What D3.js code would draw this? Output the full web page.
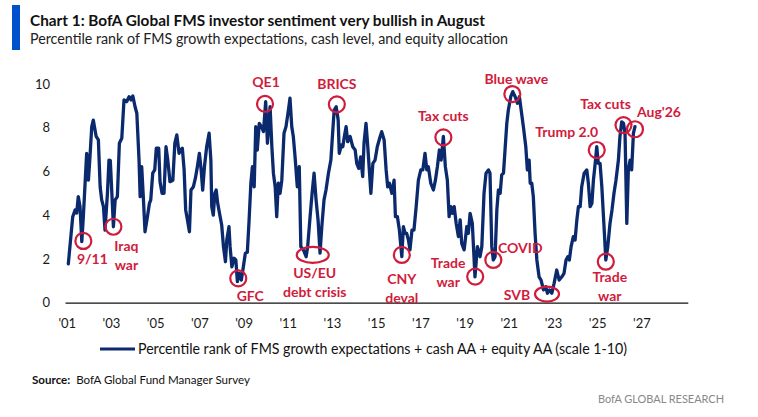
<!DOCTYPE html>
<html>
<head>
<meta charset="utf-8">
<script src="https://cdn.jsdelivr.net/npm/d3@7"></script>
<style>
  html, body { margin: 0; padding: 0; background: #fff; }
  svg { display: block; font-family: Lato, "Open Sans", sans-serif; }
  .axis text { font-size: 13px; fill: #1a1a1a; font-family: Lato, sans-serif; }
  .ann { font-size: 14px; font-weight: 700; fill: #d01c3c; }
</style>
</head>
<body>
<div id="chart"></div>
<script>
// BofA FMS composite sentiment (decimal year, scale 0-10)
const years = [
  2001.07, 2001.27, 2001.38, 2001.45, 2001.52, 2001.60, 2001.68, 2001.75, 2001.90, 2001.98,
  2002.05, 2002.13, 2002.20, 2002.33, 2002.43, 2002.51, 2002.58, 2002.66, 2002.73, 2002.84,
  2002.91, 2002.97, 2003.04, 2003.11, 2003.19, 2003.29, 2003.38, 2003.49, 2003.59, 2003.71,
  2003.82, 2003.91, 2003.99, 2004.09, 2004.17, 2004.27, 2004.32, 2004.39, 2004.47, 2004.54,
  2004.65, 2004.74, 2004.80, 2004.89, 2004.98, 2005.05, 2005.16, 2005.22, 2005.31, 2005.40,
  2005.49, 2005.57, 2005.67, 2005.80, 2005.89, 2005.98, 2006.08, 2006.16, 2006.23, 2006.31,
  2006.38, 2006.46, 2006.55, 2006.62, 2006.73, 2006.82, 2006.91, 2007.00, 2007.08, 2007.15,
  2007.23, 2007.33, 2007.44, 2007.52, 2007.56, 2007.63, 2007.70, 2007.76, 2007.83, 2007.94,
  2008.01, 2008.09, 2008.18, 2008.24, 2008.34, 2008.39, 2008.47, 2008.57, 2008.65, 2008.72,
  2008.81, 2008.90, 2008.99, 2009.08, 2009.17, 2009.25, 2009.33, 2009.40, 2009.48, 2009.55,
  2009.62, 2009.71, 2009.81, 2009.90, 2010.00, 2010.08, 2010.20, 2010.28, 2010.35, 2010.43,
  2010.50, 2010.57, 2010.65, 2010.73, 2010.83, 2010.92, 2011.03, 2011.10, 2011.18, 2011.25,
  2011.33, 2011.43, 2011.52, 2011.59, 2011.71, 2011.83, 2011.90, 2012.01, 2012.10, 2012.19,
  2012.28, 2012.37, 2012.46, 2012.54, 2012.64, 2012.73, 2012.84, 2012.95, 2013.02, 2013.10,
  2013.19, 2013.28, 2013.33, 2013.43, 2013.49, 2013.56, 2013.64, 2013.71, 2013.82, 2013.94,
  2014.05, 2014.12, 2014.21, 2014.30, 2014.39, 2014.45, 2014.54, 2014.62, 2014.69, 2014.76,
  2014.85, 2014.95, 2015.05, 2015.18, 2015.25, 2015.36, 2015.45, 2015.52, 2015.60, 2015.71,
  2015.81, 2015.87, 2015.96, 2016.05, 2016.16, 2016.23, 2016.31, 2016.38, 2016.46, 2016.53,
  2016.62, 2016.71, 2016.81, 2016.91, 2017.02, 2017.11, 2017.21, 2017.29, 2017.36, 2017.47,
  2017.59, 2017.68, 2017.77, 2017.86, 2017.94, 2018.04, 2018.13, 2018.22, 2018.30, 2018.38,
  2018.45, 2018.53, 2018.62, 2018.72, 2018.80, 2018.87, 2018.98, 2019.10, 2019.17, 2019.25,
  2019.35, 2019.47, 2019.58, 2019.70, 2019.78, 2019.88, 2019.97, 2020.08, 2020.15, 2020.23,
  2020.30, 2020.38, 2020.46, 2020.53, 2020.61, 2020.68, 2020.76, 2020.83, 2020.91, 2020.98,
  2021.09, 2021.18, 2021.29, 2021.39, 2021.48, 2021.56, 2021.66, 2021.77, 2021.84, 2021.92,
  2021.97, 2022.04, 2022.11, 2022.19, 2022.27, 2022.37, 2022.46, 2022.57, 2022.67, 2022.75,
  2022.84, 2022.95, 2023.05, 2023.17, 2023.28, 2023.40, 2023.50, 2023.59, 2023.67, 2023.74,
  2023.82, 2023.92, 2024.00, 2024.08, 2024.15, 2024.23, 2024.30, 2024.41, 2024.53, 2024.60,
  2024.68, 2024.76, 2024.83, 2024.91, 2024.98, 2025.05, 2025.13, 2025.21, 2025.31, 2025.39,
  2025.48, 2025.58, 2025.67, 2025.76, 2025.85, 2025.96, 2026.03, 2026.11, 2026.19, 2026.26,
  2026.34, 2026.41, 2026.49, 2026.56, 2026.64, 2026.71
];
const sentiment = [
  1.77, 3.93, 4.24, 4.10, 4.85, 4.39, 2.79, 3.93, 6.83, 5.60,
  6.67, 8.05, 8.35, 7.60, 7.44, 5.30, 4.70, 4.39, 3.32, 5.00,
  6.52, 6.50, 5.00, 3.47, 4.70, 4.85, 7.29, 7.52, 9.27, 9.19,
  9.42, 9.27, 9.45, 8.96, 8.66, 6.52, 4.85, 6.22, 4.70, 3.24,
  3.93, 4.54, 4.70, 5.92, 6.07, 7.06, 7.06, 5.53, 5.00, 5.00,
  7.13, 6.52, 5.53, 5.60, 7.29, 7.67, 6.83, 7.00, 7.06, 6.07,
  4.24, 3.78, 3.24, 5.15, 5.30, 5.69, 6.22, 6.83, 6.07, 5.15,
  6.22, 7.13, 7.75, 6.52, 4.39, 4.00, 5.00, 5.15, 4.54, 3.93,
  3.55, 2.56, 1.87, 2.86, 3.47, 2.56, 1.64, 2.03, 1.95, 0.96,
  1.34, 1.03, 1.64, 2.26, 2.30, 3.78, 5.46, 6.22, 5.30, 8.05,
  6.98, 8.20, 8.05, 7.82, 9.19, 7.29, 8.96, 7.13, 5.92, 5.30,
  3.93, 5.46, 5.00, 5.60, 7.75, 8.05, 8.81, 9.35, 8.05, 7.60,
  6.67, 5.30, 6.22, 2.56, 2.41, 2.10, 2.56, 3.93, 5.00, 5.92,
  4.70, 3.78, 2.26, 3.47, 4.70, 5.15, 5.92, 6.52, 7.60, 8.81,
  8.96, 8.35, 6.83, 7.21, 7.13, 7.60, 8.05, 7.36, 7.60, 7.13,
  6.98, 6.37, 6.14, 6.67, 5.76, 7.29, 8.20, 7.13, 6.07, 5.00,
  6.37, 6.52, 7.13, 7.60, 7.82, 7.44, 6.07, 5.30, 5.46, 5.00,
  5.60, 3.93, 3.93, 3.32, 2.10, 3.47, 3.17, 3.17, 2.86, 2.41,
  3.32, 3.32, 4.39, 5.60, 6.07, 6.07, 6.83, 6.07, 6.22, 5.46,
  5.15, 5.60, 6.22, 6.98, 6.52, 7.60, 6.22, 5.60, 3.93, 4.39,
  4.08, 4.39, 3.62, 3.02, 3.78, 2.71, 2.41, 3.47, 3.17, 4.08,
  3.62, 1.18, 2.56, 2.10, 2.56, 5.00, 5.92, 6.07, 5.92, 2.56,
  1.95, 2.10, 4.24, 5.15, 5.00, 5.84, 5.92, 6.98, 8.20, 8.81,
  9.42, 9.65, 9.42, 9.12, 9.42, 8.81, 8.05, 7.13, 6.07, 6.52,
  5.46, 5.46, 4.85, 3.17, 1.95, 1.18, 1.03, 0.58, 0.73, 0.43,
  0.58, 0.43, 0.88, 1.49, 1.03, 1.18, 1.34, 1.95, 2.10, 1.95,
  2.56, 3.02, 2.86, 3.78, 4.39, 4.39, 5.30, 5.92, 6.07, 5.46,
  4.39, 4.54, 5.60, 6.37, 7.13, 6.37, 6.37, 5.30, 3.47, 1.95,
  2.56, 3.62, 4.24, 5.00, 5.60, 6.52, 7.60, 8.27, 8.20, 7.75,
  3.62, 6.07, 6.52, 6.07, 7.75, 8.05
];

const xTicks = [2001, 2003, 2005, 2007, 2009, 2011, 2013, 2015, 2017, 2019, 2021, 2023, 2025, 2027];
const yTicks = [0, 2, 4, 6, 8, 10];

// event annotations: label lines, anchor in data space, marker shape
const annLabels = [["9/11"], ["Iraq", "war"], ["GFC"], ["QE1"], ["US/EU", "debt crisis"], ["BRICS"],
  ["CNY", "deval"], ["Tax cuts"], ["Trade", "war"], ["COVID"], ["Blue wave"], ["SVB"],
  ["Trump 2.0"], ["Trade", "war"], ["Tax cuts"], ["Aug'26"]];
const annYears = [2001.75, 2003.11, 2008.76, 2009.97, 2012.13, 2013.22, 2016.16, 2018.04, 2019.48,
  2020.30, 2021.16, 2022.73, 2024.98, 2025.39, 2026.19, 2026.71];
const annValues = [2.82, 3.47, 1.11, 9.09, 2.18, 9.07, 2.18, 7.56, 1.19, 1.95, 9.54, 0.39, 6.98,
  1.87, 8.12, 7.93];
const annShapes = ["c", "c", "c", "c", "e", "c", "c", "c", "c", "c", "c", "e2", "c", "c", "c", "c"];

// label placement relative to the marker (px): dx, dy of first baseline
const annOffsets = [[9, 23], [13, 24], [12, 23], [1, -17], [2, 23], [0, -15], [0, 29], [0, -16],
  [-27, -9], [27, -7], [4, -10], [-30, 6], [-30, -13], [4, 20], [-18, -16], [24, -12]];

const W = 758, H = 417;
const navy = "#0b2a6e", red = "#d01c3c";

const svg = d3.select("#chart").append("svg").attr("width", W).attr("height", H);

// --- header ---
svg.append("rect").attr("x", 12).attr("y", 5).attr("width", 8).attr("height", 45).attr("fill", "#0052cc");
svg.append("text").attr("x", 30).attr("y", 26)
  .attr("font-size", 16).attr("font-weight", 700).attr("fill", "#111")
  .attr("textLength", 455).attr("lengthAdjust", "spacingAndGlyphs")
  .text("Chart 1: BofA Global FMS investor sentiment very bullish in August");
svg.append("text").attr("x", 30).attr("y", 43.5)
  .attr("font-size", 14.5).attr("fill", "#222")
  .attr("textLength", 478).attr("lengthAdjust", "spacingAndGlyphs")
  .text("Percentile rank of FMS growth expectations, cash level, and equity allocation");

// --- scales ---
const x = d3.scaleLinear().domain([2000.92, 2029.1]).range([65, 687.8]);
const y = d3.scaleLinear().domain([0, 10]).range([302.6, 84]);

// y labels (no axis line)
const gy = svg.append("g").attr("class", "axis").attr("transform", "translate(53,0)")
  .call(d3.axisLeft(y).tickValues(yTicks).tickSize(0).tickPadding(3).tickFormat(d3.format("d")));
gy.select(".domain").remove();

// x axis
const gx = svg.append("g").attr("class", "axis").attr("transform", `translate(0,${y(0)})`)
  .call(d3.axisBottom(x).tickValues(xTicks).tickSize(0).tickPadding(16)
    .tickFormat((d) => "'" + String(d).slice(2)));
gx.select(".domain").attr("stroke", "#111").attr("stroke-width", 1.3);

// --- line ---
const pts = years.map((yr, i) => [yr, sentiment[i]]);
svg.append("path").datum(pts)
  .attr("fill", "none").attr("stroke", navy).attr("stroke-width", 3.3)
  .attr("stroke-linejoin", "round").attr("stroke-linecap", "round")
  .attr("d", d3.line().x((d) => x(d[0])).y((d) => y(d[1])));

// --- annotations ---
const ga = svg.append("g");
annLabels.forEach((lines, i) => {
  const cx = x(annYears[i]), cy = y(annValues[i]);
  const shape = annShapes[i];
  if (shape === "c") {
    ga.append("circle").attr("cx", cx).attr("cy", cy).attr("r", 8)
      .attr("fill", "none").attr("stroke", red).attr("stroke-width", 2.2);
  } else {
    ga.append("ellipse").attr("cx", cx).attr("cy", cy)
      .attr("rx", shape === "e" ? 16 : 12).attr("ry", shape === "e" ? 8 : 7.5)
      .attr("fill", "none").attr("stroke", red).attr("stroke-width", 2.2);
  }
  const [dx, dy] = annOffsets[i];
  const t = ga.append("text").attr("class", "ann").attr("text-anchor", "middle");
  lines.forEach((ln, j) => {
    t.append("tspan").attr("x", cx + dx).attr("y", cy + dy + j * 19).text(ln);
  });
});

// --- legend ---
svg.append("line").attr("x1", 100).attr("x2", 135).attr("y1", 349).attr("y2", 349)
  .attr("stroke", navy).attr("stroke-width", 3.2);
svg.append("text").attr("x", 138).attr("y", 354)
  .attr("font-size", 14.5).attr("fill", "#111")
  .attr("textLength", 489).attr("lengthAdjust", "spacingAndGlyphs")
  .text("Percentile rank of FMS growth expectations + cash AA + equity AA (scale 1-10)");

// --- footer ---
const src = svg.append("text").attr("x", 32).attr("y", 384).attr("font-size", 12).attr("fill", "#111")
  .attr("textLength", 218).attr("lengthAdjust", "spacingAndGlyphs");
src.append("tspan").attr("font-weight", 700).text("Source:");
src.append("tspan").text("\u00a0 BofA Global Fund Manager Survey");
svg.append("text").attr("x", 724).attr("y", 403).attr("text-anchor", "end")
  .attr("font-size", 12).attr("fill", "#888")
  .attr("textLength", 126).attr("lengthAdjust", "spacingAndGlyphs")
  .text("BofA GLOBAL RESEARCH");
</script>
</body>
</html>
